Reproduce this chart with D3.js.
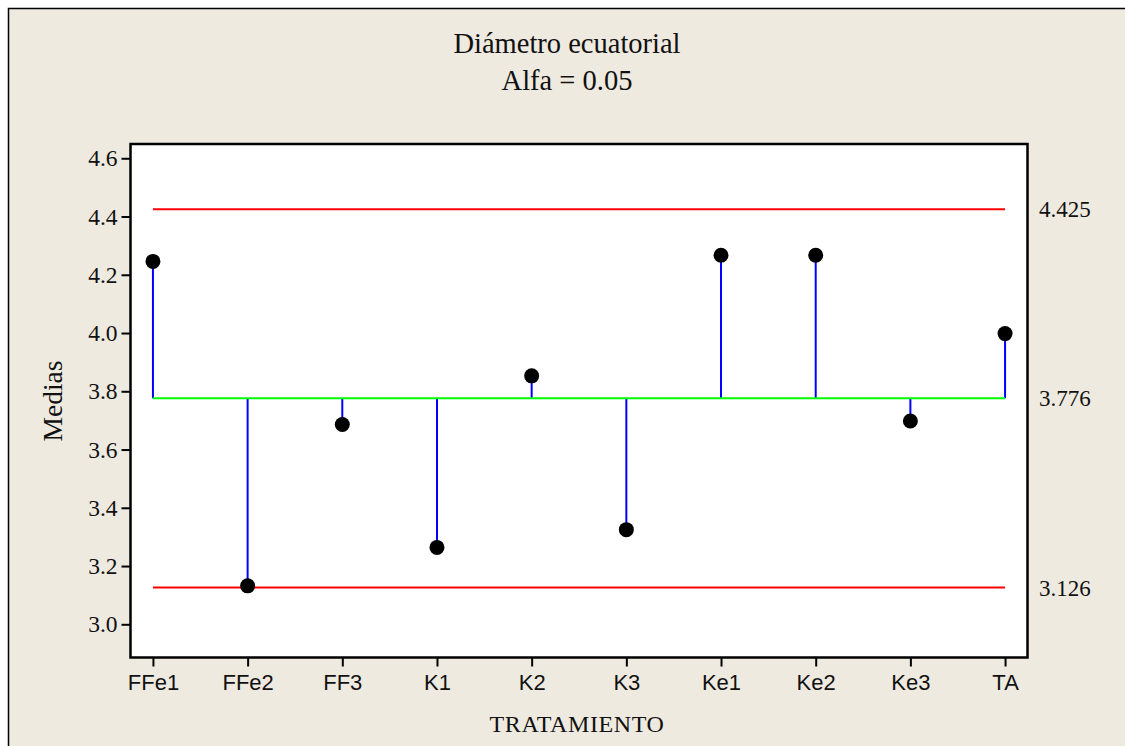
<!DOCTYPE html>
<meta charset="utf-8">
<style>
body { margin: 0; background: #fff; }
text { fill: #111; }
.serif { font-family: "Liberation Serif", "Times New Roman", serif; }
.sans { font-family: "Liberation Sans", Arial, sans-serif; }
</style>
<svg width="1125" height="746"></svg>
<script src="https://d3js.org/d3.v7.min.js"></script>
<script>

// data
var groups = ["FFe1", "FFe2", "FF3", "K1", "K2", "K3", "Ke1", "Ke2", "Ke3", "TA"];
var means = [4.246, 3.132, 3.686, 3.264, 3.853, 3.325, 4.267, 4.267, 3.698, 3.998];
var center = 3.776;
var upper = 4.425;
var lower = 3.126;
var yTicks = [3.0, 3.2, 3.4, 3.6, 3.8, 4.0, 4.2, 4.4, 4.6];

var svg = d3.select("svg"),
    width = +svg.attr("width"),
    height = +svg.attr("height");

var plot = {left: 130.5, top: 144, right: 1027.5, bottom: 657.5};

// beige frame
svg.append("rect")
    .attr("x", 8.5).attr("y", 8.5)
    .attr("width", width).attr("height", height)
    .attr("fill", "#eeeae0")
    .attr("stroke", "#000").attr("stroke-width", 1.5);

var x = d3.scalePoint()
    .domain(groups)
    .range([plot.left, plot.right])
    .padding(0.237);

var y = d3.scaleLinear()
    .domain([2.886, 4.649])
    .range([plot.bottom, plot.top]);

svg.append("rect")
    .attr("x", plot.left).attr("y", plot.top)
    .attr("width", plot.right - plot.left)
    .attr("height", plot.bottom - plot.top)
    .attr("fill", "#fff");

// axes
var yAxis = svg.append("g")
    .attr("transform", "translate(" + plot.left + ",0)")
    .call(d3.axisLeft(y).tickValues(yTicks).tickFormat(d3.format(".1f")).tickSize(9).tickPadding(4));
yAxis.select(".domain").remove();
yAxis.selectAll("line").attr("stroke", "#000").attr("stroke-width", 2);
yAxis.selectAll("text").attr("class", "serif").style("font-size", "23.5px").attr("fill", "#111");

var xAxis = svg.append("g")
    .attr("transform", "translate(0," + plot.bottom + ")")
    .call(d3.axisBottom(x).tickSize(9).tickPadding(8));
xAxis.select(".domain").remove();
xAxis.selectAll("line").attr("stroke", "#000").attr("stroke-width", 2);
xAxis.selectAll("text").attr("class", "sans").style("font-size", "22px").attr("fill", "#111");

var first = x(groups[0]), last = x(groups[groups.length - 1]);

// decision limits
[upper, lower].forEach(function(v) {
  svg.append("line")
      .attr("x1", first).attr("x2", last)
      .attr("y1", y(v)).attr("y2", y(v))
      .attr("stroke", "#ff0000").attr("stroke-width", 2);
});

// stems
svg.append("g").selectAll("line")
    .data(groups)
    .enter().append("line")
    .attr("x1", function(d) { return x(d); })
    .attr("x2", function(d) { return x(d); })
    .attr("y1", y(center))
    .attr("y2", function(d, i) { return y(means[i]); })
    .attr("stroke", "#0000ff").attr("stroke-width", 2);

svg.append("line")
    .attr("x1", first).attr("x2", last)
    .attr("y1", y(center)).attr("y2", y(center))
    .attr("stroke", "#00ff00").attr("stroke-width", 2);

svg.append("g").selectAll("circle")
    .data(groups)
    .enter().append("circle")
    .attr("cx", function(d) { return x(d); })
    .attr("cy", function(d, i) { return y(means[i]); })
    .attr("r", 7.5)
    .attr("fill", "#000");

// plot border
svg.append("rect")
    .attr("x", plot.left).attr("y", plot.top)
    .attr("width", plot.right - plot.left)
    .attr("height", plot.bottom - plot.top)
    .attr("fill", "none")
    .attr("stroke", "#000").attr("stroke-width", 2.5);

// right side labels
[upper, center, lower].forEach(function(v) {
  svg.append("text")
      .attr("class", "serif")
      .attr("x", 1039)
      .attr("y", y(v))
      .attr("dy", "0.35em")
      .style("font-size", "23px")
      .text(d3.format(".3f")(v));
});

// titles
svg.append("text")
    .attr("class", "serif")
    .attr("x", 567).attr("y", 53)
    .attr("text-anchor", "middle")
    .style("font-size", "28.5px")
    .text("Diámetro ecuatorial");
svg.append("text")
    .attr("class", "serif")
    .attr("x", 567).attr("y", 90)
    .attr("text-anchor", "middle")
    .style("font-size", "28.5px")
    .text("Alfa = 0.05");

svg.append("text")
    .attr("class", "serif")
    .attr("x", 577).attr("y", 732)
    .attr("text-anchor", "middle")
    .style("font-size", "24px")
    .style("letter-spacing", "0.6px")
    .text("TRATAMIENTO");

svg.append("text")
    .attr("class", "serif")
    .attr("transform", "translate(62,401) rotate(-90)")
    .attr("text-anchor", "middle")
    .style("font-size", "27.5px")
    .text("Medias");

</script>
